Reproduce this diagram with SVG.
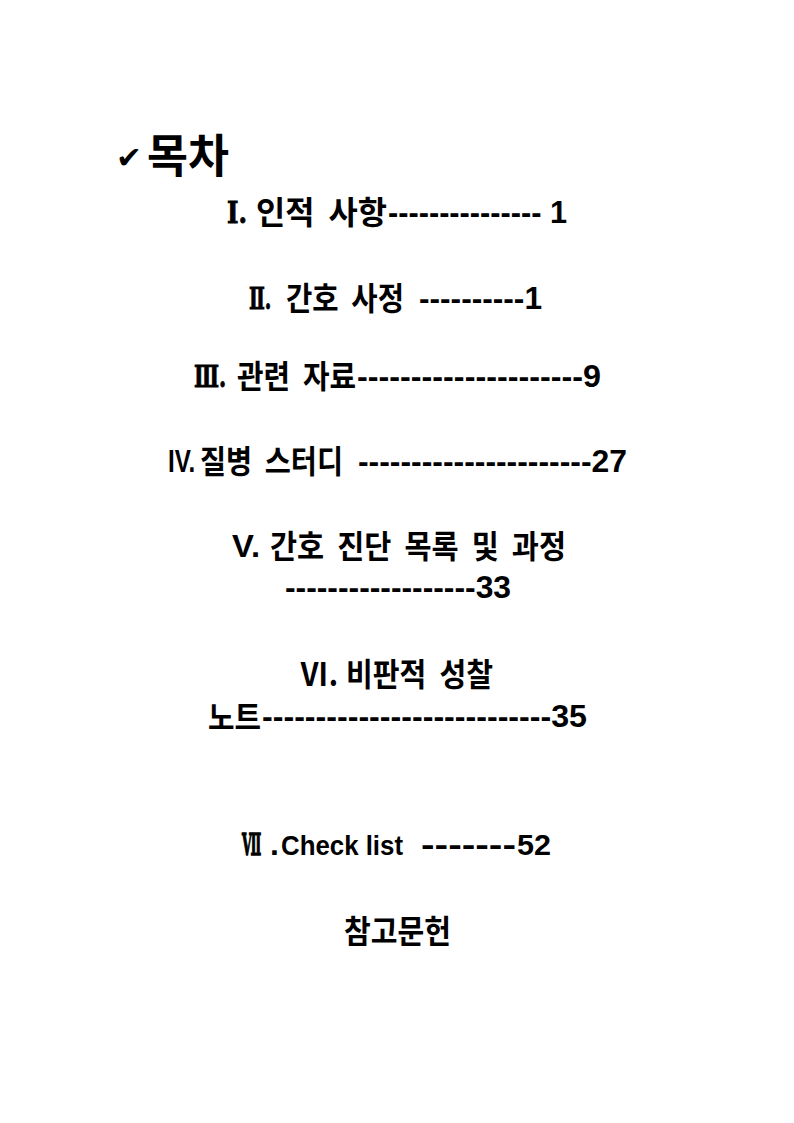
<svg xmlns="http://www.w3.org/2000/svg" width="794" height="1123" viewBox="0 0 794 1123">
<style>
.t{font-family:"Noto Sans CJK KR","Noto Sans",sans-serif;font-weight:bold;font-size:32px;fill:#000;word-spacing:7px}
.h{font-family:"Noto Sans CJK KR","Noto Sans",sans-serif;font-weight:bold;font-size:46px;fill:#000}
.c{font-family:"DejaVu Sans",sans-serif;font-weight:bold;font-size:30px;fill:#000}
.l{font-family:"Liberation Sans",Arial,sans-serif;font-weight:bold;font-size:32px;fill:#000}
.r{font-family:"DejaVu Serif","Noto Sans CJK KR",serif;font-weight:bold;font-size:29px;fill:#000;stroke:#000;stroke-width:0.9px}
</style>
<rect width="794" height="1123" fill="#fff"/>
<g id="title">
<text class="c" x="116" y="168" textLength="26" lengthAdjust="spacingAndGlyphs">✔</text>
<text class="h" x="147" y="172" textLength="82" lengthAdjust="spacingAndGlyphs">목차</text>
</g>
<g id="item1">
<text class="r" x="227" y="223" textLength="20" lengthAdjust="spacingAndGlyphs">Ⅰ.</text>
<text class="t" x="256" y="224" textLength="131" lengthAdjust="spacingAndGlyphs">인적 사항</text>
<text class="l" x="388" y="223" textLength="179" lengthAdjust="spacingAndGlyphs" xml:space="preserve">--------------- 1</text>
</g>
<g id="item2">
<text class="r" transform="translate(249,309) scale(0.7,1)" x="0" y="0" textLength="32" lengthAdjust="spacingAndGlyphs">Ⅱ.</text>
<text class="t" x="286" y="310" textLength="118" lengthAdjust="spacingAndGlyphs">간호 사정</text>
<text class="l" x="419" y="309" textLength="123" lengthAdjust="spacingAndGlyphs">----------1</text>
</g>
<g id="item3">
<text class="r" transform="translate(194,387) scale(0.7,1)" x="0" y="0" textLength="46" lengthAdjust="spacingAndGlyphs">Ⅲ.</text>
<text class="t" x="237" y="388" textLength="119" lengthAdjust="spacingAndGlyphs">관련 자료</text>
<text class="l" x="357" y="387" textLength="244" lengthAdjust="spacingAndGlyphs">---------------------9</text>
</g>
<g id="item4">
<text class="l" transform="translate(168,472) scale(0.78,1)" x="0" y="0" style="font-size:31px">IV.</text>
<text class="t" x="200" y="473" textLength="143" lengthAdjust="spacingAndGlyphs">질병 스터디</text>
<text class="l" x="358" y="472" textLength="269" lengthAdjust="spacingAndGlyphs">----------------------27</text>
</g>
<g id="item5">
<text class="l" x="232" y="557" textLength="28" lengthAdjust="spacingAndGlyphs">V.</text>
<text class="t" x="270" y="558" textLength="296" lengthAdjust="spacingAndGlyphs">간호 진단 목록 및 과정</text>
<text class="l" x="285" y="598" textLength="226" lengthAdjust="spacingAndGlyphs">------------------33</text>
</g>
<g id="item6">
<text class="t" x="300" y="686" textLength="38" lengthAdjust="spacingAndGlyphs">Ⅵ.</text>
<text class="t" x="346" y="686" textLength="147" lengthAdjust="spacingAndGlyphs">비판적 성찰</text>
<text class="t" x="208" y="729" textLength="53" lengthAdjust="spacingAndGlyphs">노트</text>
<text class="l" x="262" y="727" textLength="325" lengthAdjust="spacingAndGlyphs">---------------------------35</text>
</g>
<g id="item7">
<text class="r" transform="translate(242,855) scale(0.6,1)" x="0" y="0" textLength="32" lengthAdjust="spacingAndGlyphs" style="stroke-width:1.4px">Ⅶ</text>
<text class="l" x="270" y="855">.</text>
<text class="l" x="281" y="855" textLength="122" lengthAdjust="spacingAndGlyphs" style="font-size:28px">Check list</text>
<text class="l" x="421" y="855" textLength="95" lengthAdjust="spacingAndGlyphs">-------</text>
<text class="l" x="517" y="855" textLength="34" lengthAdjust="spacingAndGlyphs" style="font-size:30px">52</text>
</g>
<g id="references"><text class="t" x="344" y="943" textLength="107" lengthAdjust="spacingAndGlyphs">참고문헌</text></g>
</svg>
